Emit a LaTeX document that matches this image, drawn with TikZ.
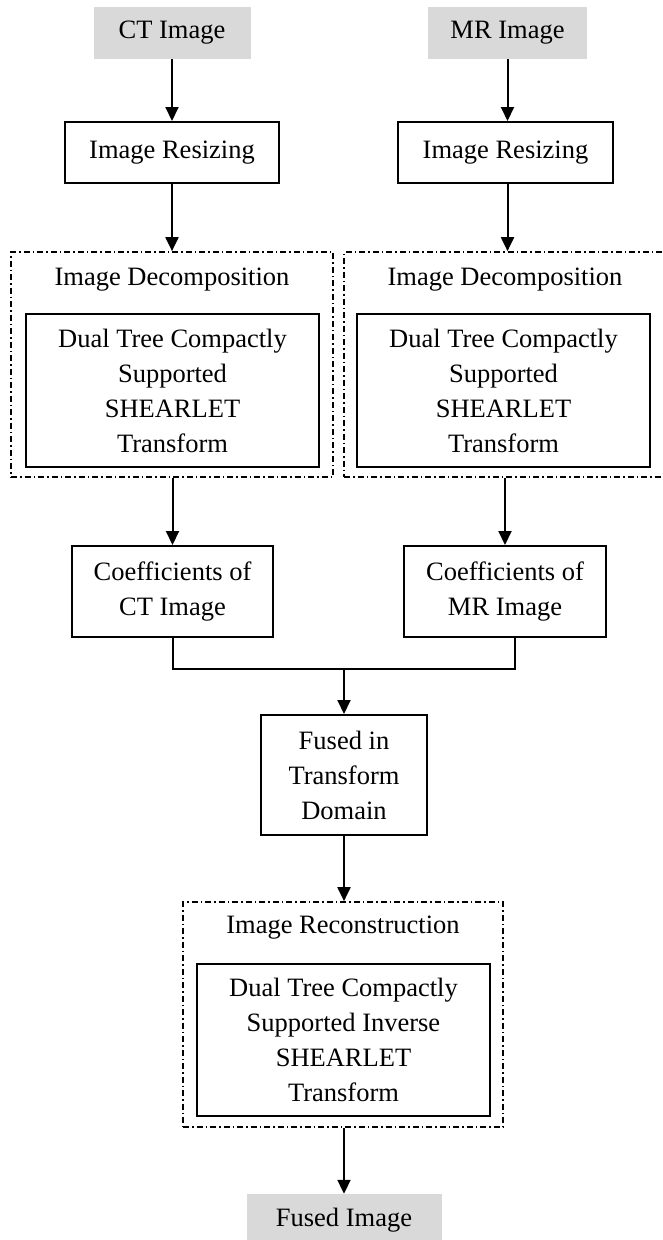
\documentclass[tikz,border=0pt]{standalone}
\usepackage{fontspec}
\setmainfont{Liberation Serif}
\usetikzlibrary{arrows.meta}
\definecolor{srcgray}{RGB}{217,217,217}
\begin{document}
\begin{tikzpicture}[x=1pt,y=-1pt,
  every node/.style={font=\fontsize{26.5}{35}\selectfont,align=center,inner sep=0pt},
  src/.style={fill=srcgray},
  blk/.style={draw,line width=2pt},
  grp/.style={draw,line width=1.7pt,dash pattern=on 6pt off 3pt on 1.5pt off 3pt},
  arr/.style={line width=2pt,-{Triangle[length=14pt,width=13pt]}}]
\useasboundingbox (0,0) rectangle (662,1240);
\node[src,minimum width=157pt,minimum height=52pt] (ct) at (172,33) {CT Image};
\node[src,minimum width=159pt,minimum height=52pt] (mr) at (507.5,33) {MR Image};
\node[blk,minimum width=214pt,minimum height=61pt] (rsz1) at (172,152.5) {Image Resizing};
\node[blk,minimum width=215pt,minimum height=61pt] (rsz2) at (505.5,152.5) {Image Resizing};
\node[grp,minimum width=322pt,minimum height=225pt] (dec1) at (172,364.5) {};
\node[grp,minimum width=330pt,minimum height=225pt] (dec2) at (509,364.5) {};
\node (dec1t) at (172,280) {Image Decomposition};
\node (dec2t) at (505,280) {Image Decomposition};
\node[blk,minimum width=293pt,minimum height=153pt] (dts1) at (172.5,390.5)
  {Dual Tree Compactly\\Supported\\SHEARLET\\Transform};
\node[blk,minimum width=293pt,minimum height=153pt] (dts2) at (503.5,390.5)
  {Dual Tree Compactly\\Supported\\SHEARLET\\Transform};
\node[blk,minimum width=201pt,minimum height=91pt] (coef1) at (172.5,591.5) {Coefficients of\\CT Image};
\node[blk,minimum width=202pt,minimum height=91pt] (coef2) at (505,591.5) {Coefficients of\\MR Image};
\coordinate (join) at (344,669);
\node[blk,minimum width=166pt,minimum height=120pt] (fuse) at (344,775) {Fused in\\Transform\\Domain};
\node[grp,minimum width=320pt,minimum height=225pt] (rec) at (343,1014.5) {};
\node (rect) at (343,928) {Image Reconstruction};
\node[blk,minimum width=293pt,minimum height=152pt] (idts) at (343.5,1040)
  {Dual Tree Compactly\\Supported Inverse\\SHEARLET\\Transform};
\node[src,minimum width=195pt,minimum height=52pt] (out) at (344,1220) {Fused Image};
\draw[arr] (ct) -- (ct |- rsz1.north);
\draw[arr] (mr.south) -- (mr.south |- rsz2.north);
\draw[arr] (rsz1) -- (dec1.north -| rsz1);
\draw[arr] (rsz2.south -| mr) -- (mr |- dec2.north);
\draw[arr] (dec1.south -| coef1) -- (coef1);
\draw[arr] (dec2.south -| coef2) -- (coef2);
\draw[line width=2pt] (coef1.south) |- (join);
\draw[line width=2pt] ([xshift=10pt]coef2.south) |- (join);
\draw[arr] (join) -- (fuse);
\draw[arr] (fuse) -- (fuse |- rec.north);
\draw[arr] (rec.south -| out) -- (out);
\end{tikzpicture}
\end{document}
